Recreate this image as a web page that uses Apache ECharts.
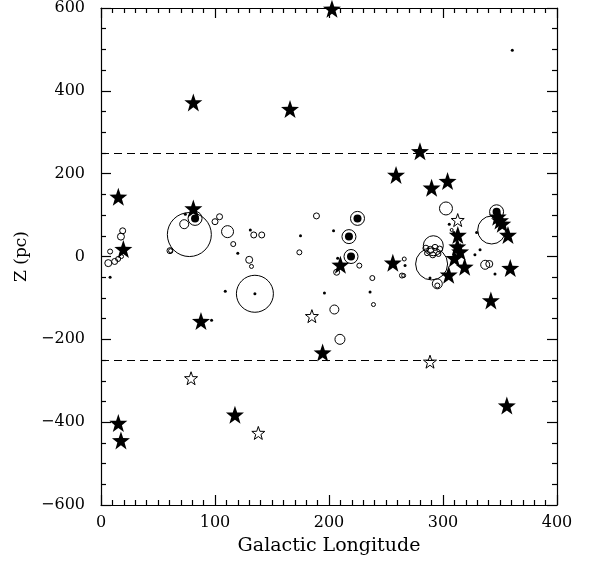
<!DOCTYPE html>
<html>
<head>
<meta charset="utf-8">
<script src="https://cdn.jsdelivr.net/npm/echarts@6/dist/echarts.min.js"></script>
<style>
html, body { margin: 0; padding: 0; background: #fff; }
#chart { width: 592px; height: 563px; }
</style>
</head>
<body>
<div id="chart"></div>
<script>
// galactic longitude / Z (pc)
var filledStars = [
    [202.6, 598], [81, 372], [165.8, 356], [279.8, 254], [258.8, 197], [290, 166], [304, 182],
    [15.2, 144], [81, 116], [19.6, 18], [87.7, -156], [210, -20], [256, -15],
    [313, 52], [312.6, 24], [315, 12], [310, -4], [319, -25], [305, -44],
    [357, 52], [359, -28], [348, 96], [350, 87], [352, 79], [342, -106],
    [194.4, -232], [117.5, -382], [15.2, -402], [17.5, -444], [356, -360]
];
var openStars = [[79, -294], [138, -426], [288.6, -254], [185, -144], [312.9, 88]];
// clusters with a filled core
var coreClusters = [[82.5, 92], [225, 92], [217.5, 48], [219.3, 0], [347, 108]];
// point-like objects
var dots = [
    [8, -50], [74, 102], [120, 8], [131, 64], [109, -84], [97, -154], [135, -90],
    [175, 50], [204, 62], [207.6, -4], [236, -86], [196, -88], [266.7, -22], [288.6, -52],
    [329.5, 58], [332.5, 16], [328, 4], [345.6, -42], [360.8, 498], [305.5, 78], [309.6, 58]
];
// open circles: [longitude, Z, apparent size]
var openCircles = [
    [19, 62, 6], [17.5, 48, 7], [8, 12, 5], [6.4, -16, 7], [12, -12, 6], [15, -6, 5], [18, 0, 4],
    [60.5, 14, 6], [61, 14, 4], [77.5, 53, 44],
    [73, 78, 9], [100, 84, 6], [104, 96, 6], [111, 60, 12], [116, 30, 5], [130, -8, 7], [132, -24, 4],
    [134, 52, 6], [141, 52, 6], [135, -90, 37],
    [189, 98, 6], [174, 10, 5], [206.7, -38, 6], [226.6, -22, 5], [238, -52, 5], [239, -116, 4],
    [204.7, -128, 9], [209.6, -200, 10],
    [266, -6, 4], [264, -46, 5], [265.5, -46, 4],
    [302.6, 116, 13], [307.6, 64, 3],
    [291.5, 26, 20], [290, -18, 32], [285, 20, 6], [289, 16, 7], [293, 22, 6], [297, 18, 6],
    [286, 8, 5], [291, 4, 6], [296, 6, 5], [295, -66, 10], [295, -70, 5],
    [342.7, 64, 28], [337, -20, 9], [340.6, -18, 7]
];
var xTicks = [0, 400, 100];
var yTicks = [-600, 600, 200];
var zLimits = [250, -250];

function starPath(inner) {
    var pts = [];
    for (var i = 0; i < 10; i++) {
        var r = i % 2 ? inner : 1;
        var a = Math.PI / 2 + i * Math.PI / 5;
        pts.push((r * Math.cos(a)).toFixed(3) + ',' + (-r * Math.sin(a)).toFixed(3));
    }
    return 'path://M' + pts.join('L') + 'Z';
}
var star = starPath(0.4);

var font = 'DejaVu Serif';
var lineStyle = { color: '#000', width: 1.2 };

function xAxis(pos, labels) {
    return {
        type: 'value', position: pos, min: xTicks[0], max: xTicks[1], interval: xTicks[2],
        name: labels ? 'Galactic Longitude' : '', nameLocation: 'middle', nameGap: 32,
        nameTextStyle: { fontFamily: font, fontSize: 19, color: '#000' },
        axisLine: { onZero: false, lineStyle: lineStyle },
        axisTick: { inside: true, length: 10, lineStyle: lineStyle },
        minorTick: { show: true, splitNumber: 10, length: 5, lineStyle: lineStyle },
        axisLabel: { show: labels, margin: 10, fontFamily: font, fontSize: 16, color: '#000',
            showMinLabel: true, showMaxLabel: true },
        splitLine: { show: false }
    };
}
function yAxis(pos, labels) {
    return {
        type: 'value', position: pos, min: yTicks[0], max: yTicks[1], interval: yTicks[2],
        name: labels ? 'Z (pc)' : '', nameLocation: 'middle', nameGap: 58,
        nameTextStyle: { fontFamily: font, fontSize: 17, color: '#000' },
        axisLine: { onZero: false, lineStyle: lineStyle },
        axisTick: { inside: true, length: 10, lineStyle: lineStyle },
        minorTick: { show: true, splitNumber: 4, length: 5, lineStyle: lineStyle },
        axisLabel: { show: labels, margin: 16, fontFamily: font, fontSize: 16, color: '#000',
            showMinLabel: true, showMaxLabel: true,
            formatter: function (v) { return v < 0 ? '\u2212' + (-v) : '' + v; } },
        splitLine: { show: false }
    };
}

var chart = echarts.init(document.getElementById('chart'));
chart.setOption({
    animation: false,
    backgroundColor: '#fff',
    grid: { left: 101, right: 35, top: 5, bottom: 58 },
    xAxis: [xAxis('bottom', true), xAxis('top', false)],
    yAxis: [yAxis('left', true), yAxis('right', false)],
    series: [
        {
            type: 'scatter', data: openCircles, clip: false,
            symbolSize: function (v) { return v[2]; },
            itemStyle: { color: 'rgba(0,0,0,0)', borderColor: '#000', borderWidth: 1, opacity: 1 },
            markLine: {
                silent: true, symbol: ['none', 'none'], label: { show: false },
                lineStyle: { color: '#000', type: [8, 5], width: 1 },
                data: zLimits.map(function (z) { return { yAxis: z }; })
            }
        },
        {
            type: 'scatter', data: coreClusters, symbolSize: 14,
            itemStyle: { color: 'rgba(0,0,0,0)', borderColor: '#000', borderWidth: 1, opacity: 1 }
        },
        { type: 'scatter', data: coreClusters, symbolSize: 8, itemStyle: { color: '#000', opacity: 1 } },
        { type: 'scatter', data: dots, symbolSize: 3, itemStyle: { color: '#000', opacity: 1 } },
        {
            type: 'scatter', data: openStars, symbol: star, symbolSize: 13,
            itemStyle: { color: '#fff', borderColor: '#000', borderWidth: 1, opacity: 1 }
        },
        {
            type: 'scatter', data: filledStars, symbol: star, symbolSize: 18, clip: false,
            itemStyle: { color: '#000', opacity: 1 }
        }
    ]
});
</script>
</body>
</html>
